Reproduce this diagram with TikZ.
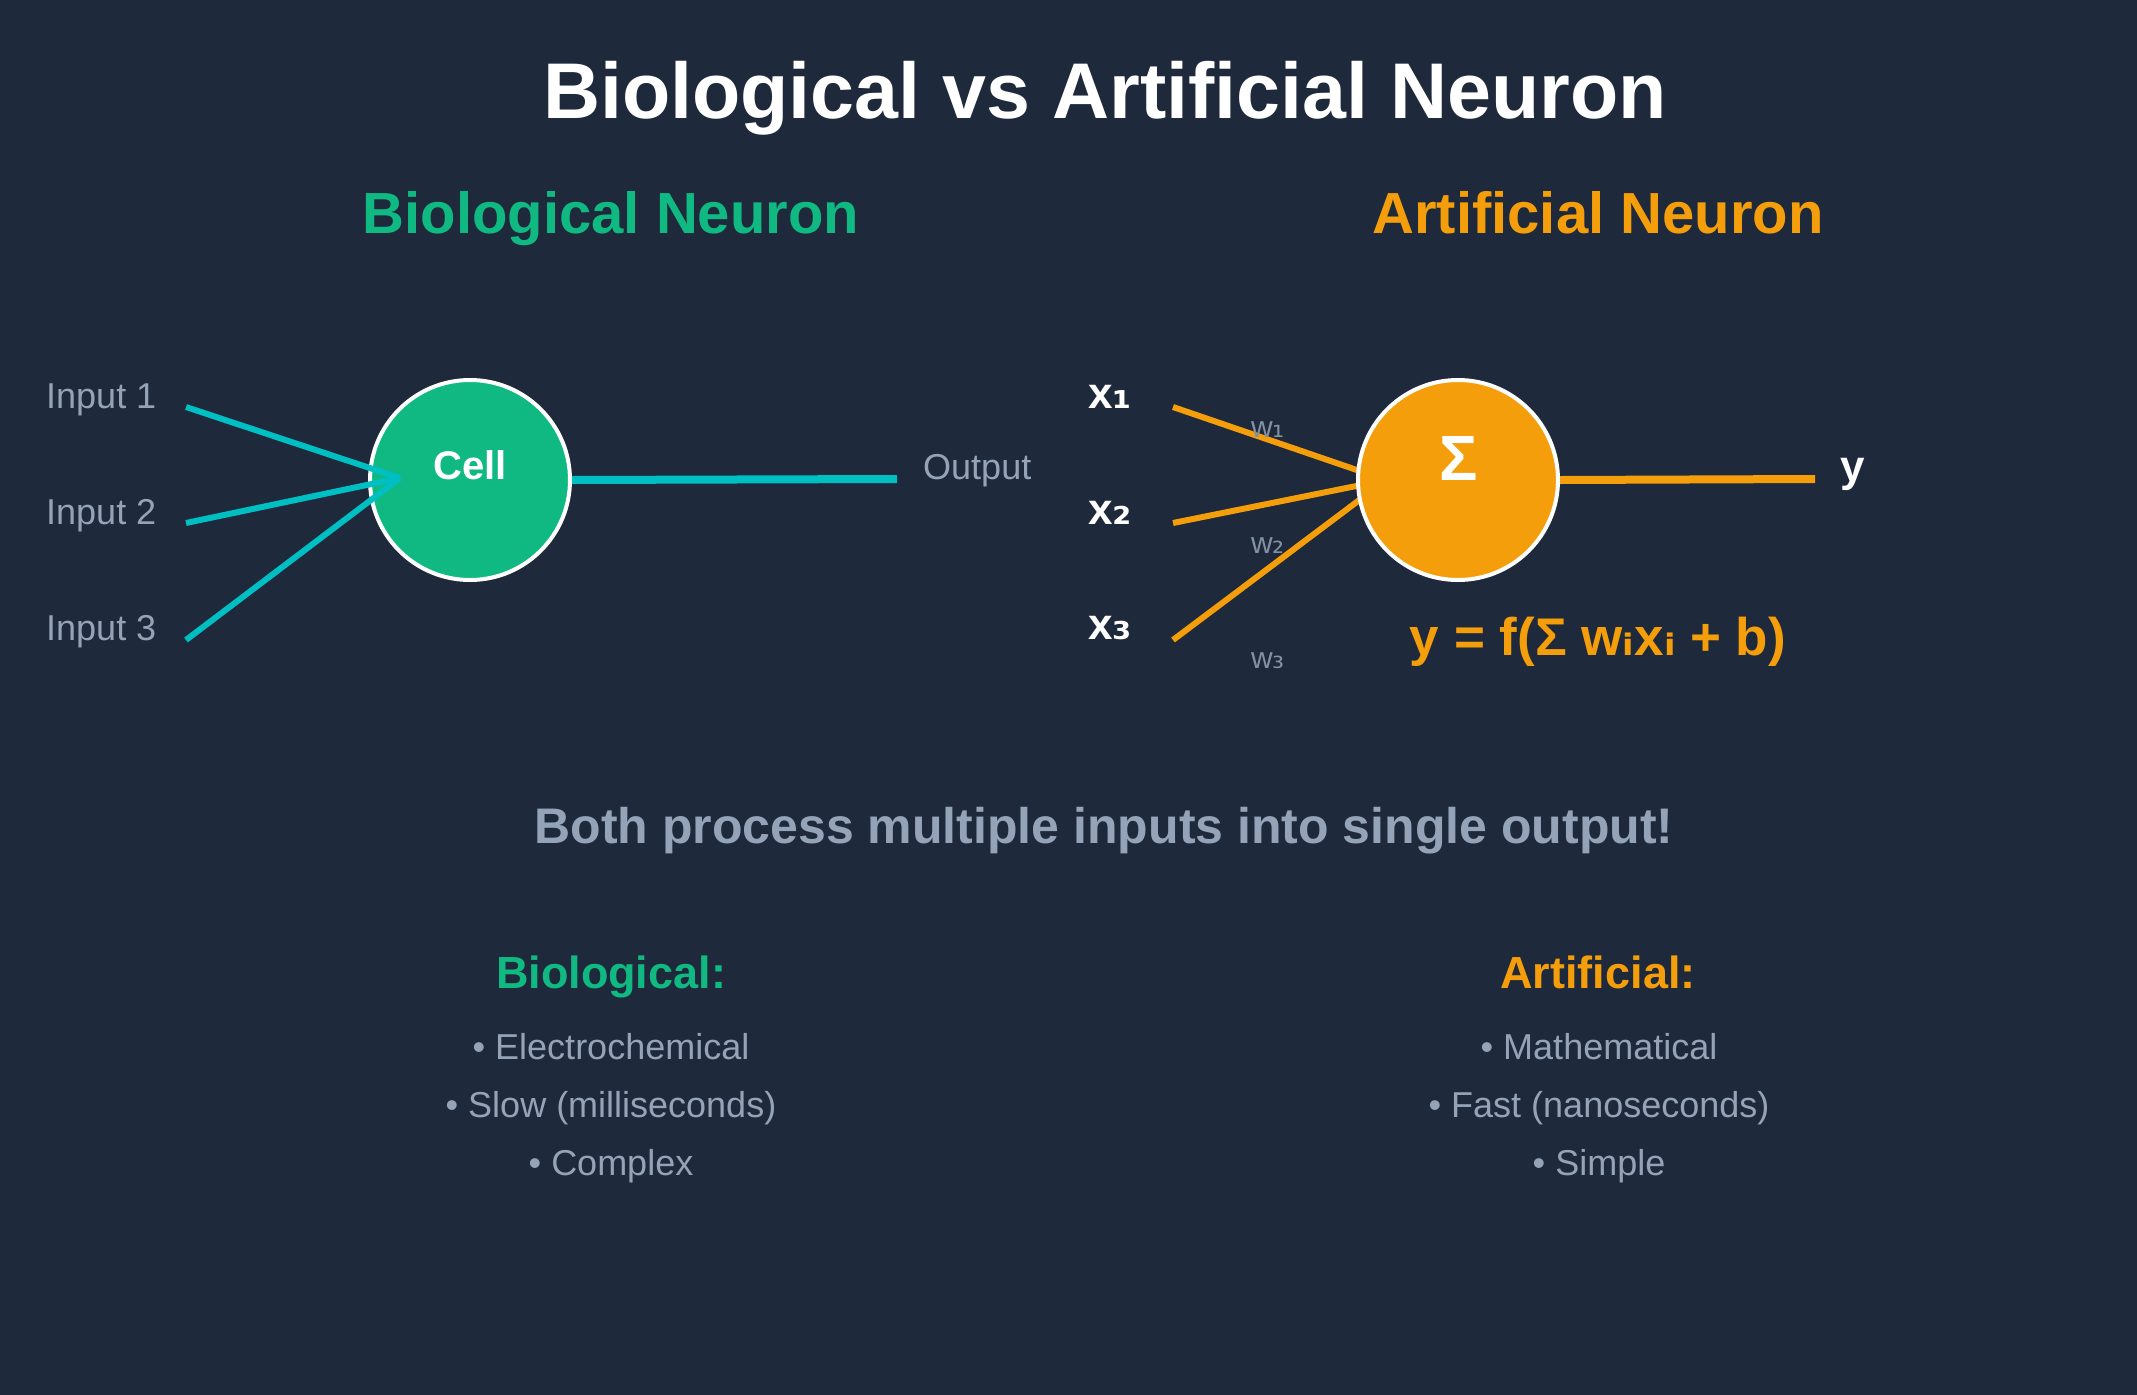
\documentclass[tikz,border=0pt]{standalone}
\usepackage{fontspec}
\setmainfont{Liberation Sans}
\newfontfamily\djv{DejaVu Sans}
\definecolor{bgc}{HTML}{1E293B}
\definecolor{grn}{HTML}{10B981}
\definecolor{org}{HTML}{F59E0B}
\definecolor{cyn}{HTML}{00BFC2}
\definecolor{gry}{HTML}{94A3B8}
\newcommand{\fs}[1]{\fontsize{#1}{#1}\selectfont}
\begin{document}
\begin{tikzpicture}[x=1pt,y=-1pt]
  \tikzset{txt/.style={inner sep=0pt,anchor=base},
    lbl/.style={txt,anchor=base west},
    soma/.style={circle,draw=white,line width=4pt,minimum size=200pt,inner sep=0pt},
    bioln/.style={cyn,line width=6pt},
    artln/.style={org,line width=6pt}}
  \fill[bgc] (0,0) rectangle (2137,1395);
  \node[txt,text=white,font=\fs{79}\bfseries] (title) at (1105,118) {Biological vs Artificial Neuron};
  \node[txt,text=grn,font=\fs{58}\bfseries] (bhead) at (611,233) {Biological Neuron};
  \node[txt,text=org,font=\fs{58}\bfseries] (ahead) at (1598,233) {Artificial Neuron};
  % biological side
  \node[soma,fill=grn] (cell) at (470,480) {};
  \node[txt,text=white,font=\fs{40}\bfseries] (celltxt) at (470,479) {Cell};
  \node[lbl,text=gry,font=\fs{36}] (in1) at (46,408) {Input 1};
  \node[lbl,text=gry,font=\fs{36}] (in2) at (46,524) {Input 2};
  \node[lbl,text=gry,font=\fs{36}] (in3) at (46,640) {Input 3};
  \coordinate (d1) at (186,407); \coordinate (d2) at (186,523); \coordinate (d3) at (186,640);
  \coordinate (bj) at (400,478); \coordinate (axon) at (897,479);
  \draw[bioln] (d1)--(bj); \draw[bioln] (d2)--(bj); \draw[bioln] (d3)--(bj);
  \draw[cyn,line width=8pt] (cell.east)--(axon);
  \node[lbl,text=gry,font=\fs{36}] (outtxt) at (923,479) {Output};
  % artificial side
  \coordinate (s1) at (1173,407); \coordinate (s2) at (1173,523); \coordinate (s3) at (1173,640);
  \coordinate (aj) at (1386,480); \coordinate (yend) at (1815,479);
  \draw[artln] (s1)--(aj); \draw[artln] (s2)--(aj); \draw[artln] (s3)--(aj);
  \node[soma,fill=org] (sum) at (1458,480) {};
  \node[txt,text=white,font=\fs{64}\bfseries] (sigma) at (1459,480) {Σ};
  \draw[org,line width=8pt] (sum.east)--(yend);
  \node[lbl,text=white,font=\fs{44}\bfseries] (x1) at (1088,408) {x{\djv\bfseries ₁}};
  \node[lbl,text=white,font=\fs{44}\bfseries] (x2) at (1088,524) {x{\djv\bfseries ₂}};
  \node[lbl,text=white,font=\fs{44}\bfseries] (x3) at (1088,639) {x{\djv\bfseries ₃}};
  \node[lbl,text=gry!85!bgc,font=\fs{30}] (w1) at (1251,437) {w{\djv ₁}};
  \node[lbl,text=gry!85!bgc,font=\fs{30}] (w2) at (1251,553) {w{\djv ₂}};
  \node[lbl,text=gry!85!bgc,font=\fs{30}] (w3) at (1251,668) {w{\djv ₃}};
  \node[lbl,text=white,font=\fs{44}\bfseries] (ytxt) at (1840,481) {y};
  \node[txt,text=org,font=\fs{53}\bfseries] (formula) at (1598,655) {y = f(Σ w{\djv\bfseries ᵢ}x{\djv\bfseries ᵢ} + b)};
  % comparison
  \node[txt,text=gry,font=\fs{50}\bfseries] (both) at (1104,843) {Both process multiple inputs into single output!};
  \node[txt,text=grn,font=\fs{45}\bfseries] (bcol) at (611,988) {Biological:};
  \node[txt,text=gry,font=\fs{36}] (b1) at (611,1059) {• Electrochemical};
  \node[txt,text=gry,font=\fs{36}] (b2) at (611,1117) {• Slow (milliseconds)};
  \node[txt,text=gry,font=\fs{36}] (b3) at (611,1175) {• Complex};
  \node[txt,text=org,font=\fs{45}\bfseries] (acol) at (1598,988) {Artificial:};
  \node[txt,text=gry,font=\fs{36}] (a1) at (1599,1059) {• Mathematical};
  \node[txt,text=gry,font=\fs{36}] (a2) at (1599,1117) {• Fast (nanoseconds)};
  \node[txt,text=gry,font=\fs{36}] (a3) at (1599,1175) {• Simple};
\end{tikzpicture}
\end{document}
